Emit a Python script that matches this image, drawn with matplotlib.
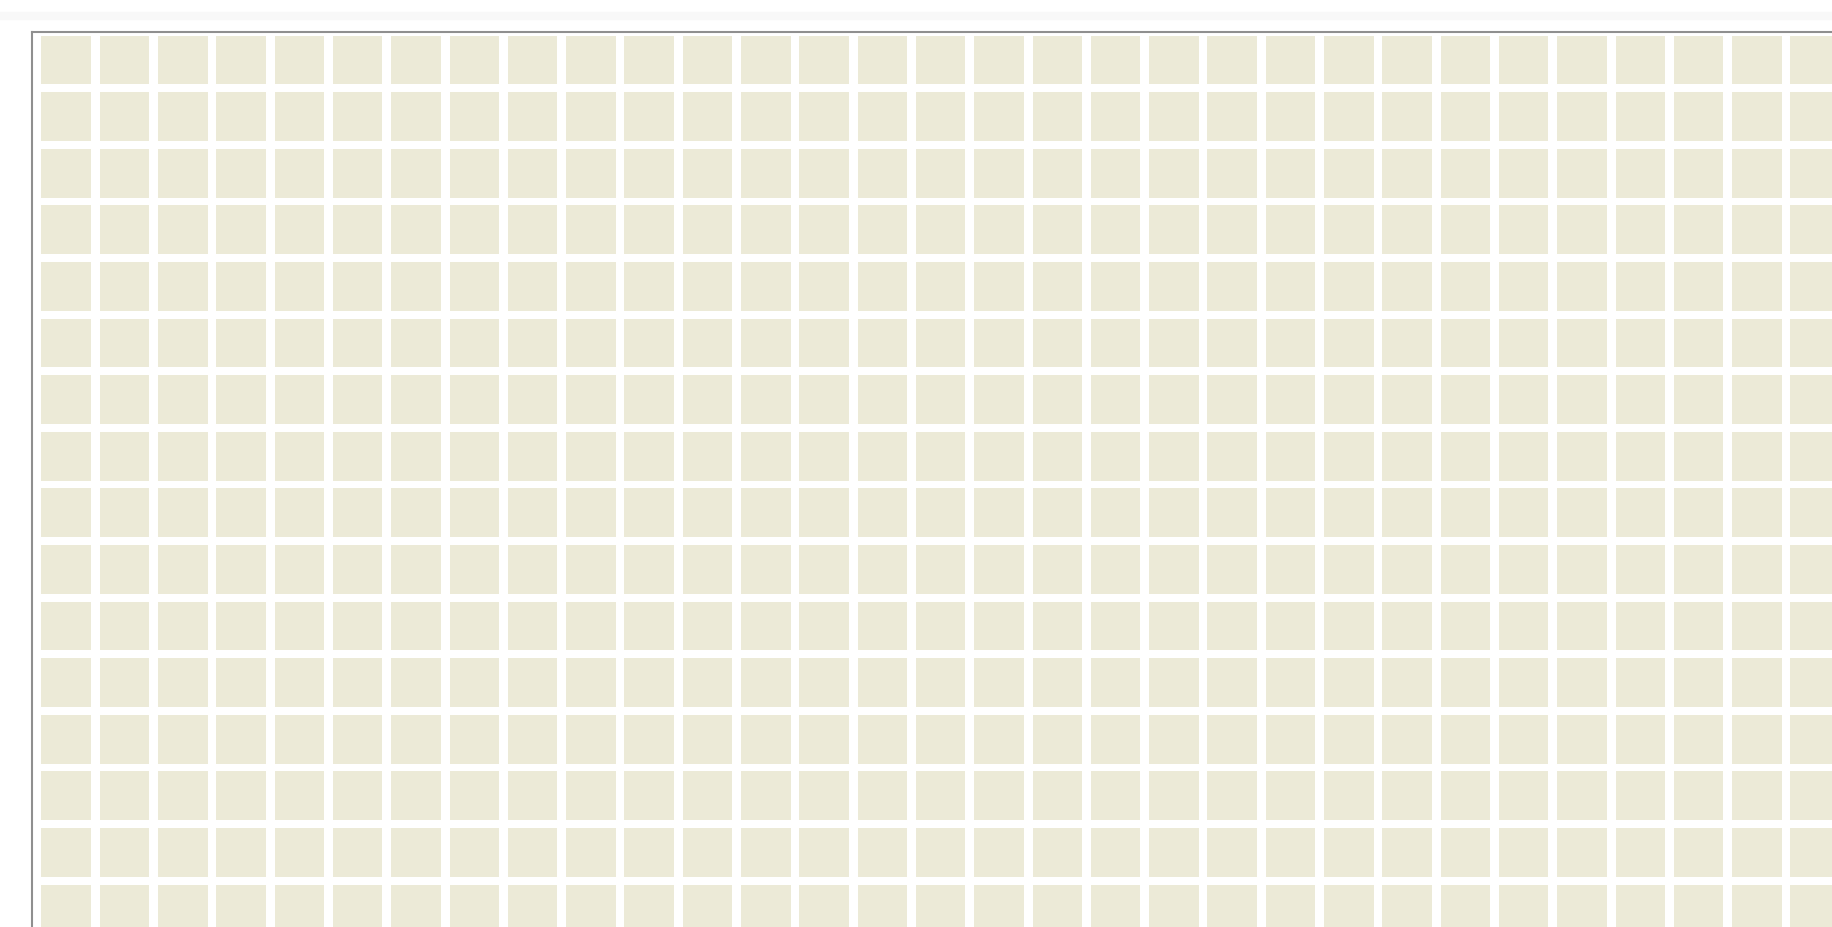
"""Cropped uniform tile grid (waffle-style heatmap) in a single beige tone."""
import matplotlib
matplotlib.use("Agg")
import matplotlib.pyplot as plt
from matplotlib.lines import Line2D

# Grid data: 16 visible rows x 31 visible columns, every cell the same category
row_labels = list(range(16))
col_labels = list(range(31))
cell_values = [[1] * len(col_labels) for _ in row_labels]
category_colors = {1: "#ECEAD7"}

W, H = 1833, 927
fig = plt.figure(figsize=(W / 100, H / 100), dpi=100)
fig.patch.set_facecolor("white")

# very faint band above the frame
fig.add_artist(Line2D([0, 1], [1 - 16 / H, 1 - 16 / H], transform=fig.transFigure,
                      color="#f8f8f8", lw=6))

left_px, top_px = 32, 32
ax = fig.add_axes([left_px / W, 0, (W - left_px) / W, (H - top_px) / H])

pitch_x, pitch_y = 58.3, 56.6
x0_px, y0_px = 66.2, 60.0
ax.set_xlim((left_px - x0_px) / pitch_x, (W - x0_px) / pitch_x)
ax.set_ylim((H - y0_px) / pitch_y, (top_px - y0_px) / pitch_y)

cell_w, cell_h = 0.85, 0.86
for r in row_labels:
    for c in col_labels:
        ax.bar(c, cell_h, bottom=r - cell_h / 2, width=cell_w,
               color=category_colors[cell_values[r][c]], linewidth=0)

ax.set_xticks([])
ax.set_yticks([])
for side in ("right", "bottom"):
    ax.spines[side].set_visible(False)
for side in ("top", "left"):
    ax.spines[side].set_color("#8f8f8f")
    ax.spines[side].set_linewidth(1.5)

fig.savefig("out.png", dpi=100, facecolor="white")
